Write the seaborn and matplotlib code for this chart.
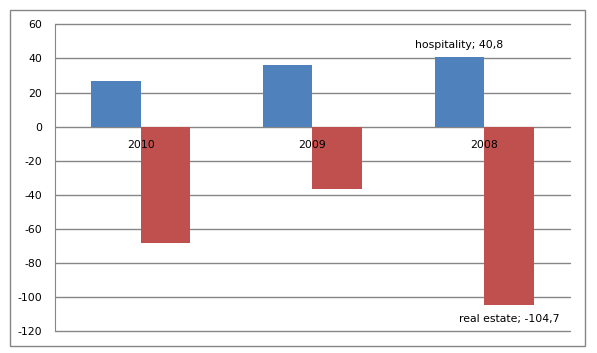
import pandas as pd
import matplotlib
matplotlib.use("Agg")
import matplotlib.pyplot as plt
import seaborn as sns
from matplotlib.patches import Rectangle

# ===== data =====
years = ["2010", "2009", "2008"]
hospitality = [26.6, 36.0, 40.8]
real_estate = [-68.3, -36.8, -104.7]
series_names = ["hospitality", "real estate"]
y_ticks = [60, 40, 20, 0, -20, -40, -60, -80, -100, -120]

df = pd.DataFrame({
    "year": years * 2,
    "value": hospitality + real_estate,
    "series": [series_names[0]] * len(years) + [series_names[1]] * len(years),
})

# ===== style =====
sns.set_style("white")
plt.rcParams["font.family"] = ["DejaVu Sans"]
plt.rcParams["font.size"] = 7.8
plt.rcParams["axes.unicode_minus"] = False
plt.rcParams["text.color"] = "black"
plt.rcParams["ytick.color"] = "black"

grid_color = "#868686"
colors = {"hospitality": "#4F81BD", "real estate": "#C0504D"}

fig = plt.figure(figsize=(5.97, 3.53), dpi=100)
ax = fig.add_axes([0.0916, 0.0615, 0.8632, 0.8695])

sns.barplot(data=df, x="year", y="value", hue="series", order=years,
            hue_order=series_names, palette=colors, width=0.576, gap=0,
            saturation=1, legend=False, linewidth=0, ax=ax, zorder=1)

ax.set_ylim(min(y_ticks), max(y_ticks))
ax.set_xlim(-0.5, len(years) - 0.5)
ax.set_yticks(y_ticks)
for y in y_ticks:
    ax.axhline(y, color=grid_color, lw=1.0, zorder=0, clip_on=False)

ax.spines["left"].set_color(grid_color)
for side in ["top", "right", "bottom"]:
    ax.spines[side].set_visible(False)
ax.set_xticks([])
ax.tick_params(axis="y", length=0, pad=9)
ax.set_xlabel("")
ax.set_ylabel("")

# category labels just under the zero line, drawn over the bars
for i, year in enumerate(years):
    ax.annotate(year, (i, 0), xytext=(0, -13), textcoords="offset points",
                ha="center", va="center", zorder=5)

# data labels on the last category only
def fmt(name, v):
    return f"{name}; {v:.1f}".replace(".", ",")

hosp_labels = [""] * (len(years) - 1) + [fmt(series_names[0], hospitality[-1])]
re_labels = [""] * (len(years) - 1) + [fmt(series_names[1], real_estate[-1])]
ax.bar_label(ax.containers[0], labels=hosp_labels, padding=5, fontsize=7.8)
ax.bar_label(ax.containers[1], labels=re_labels, padding=6, fontsize=7.8)

# outer chart border
fig.patches.append(Rectangle((10 / 597, 7 / 353), 575 / 597, 336 / 353,
                             transform=fig.transFigure, fill=False,
                             edgecolor=grid_color, lw=1.0))

fig.savefig("out.png", dpi=100)
